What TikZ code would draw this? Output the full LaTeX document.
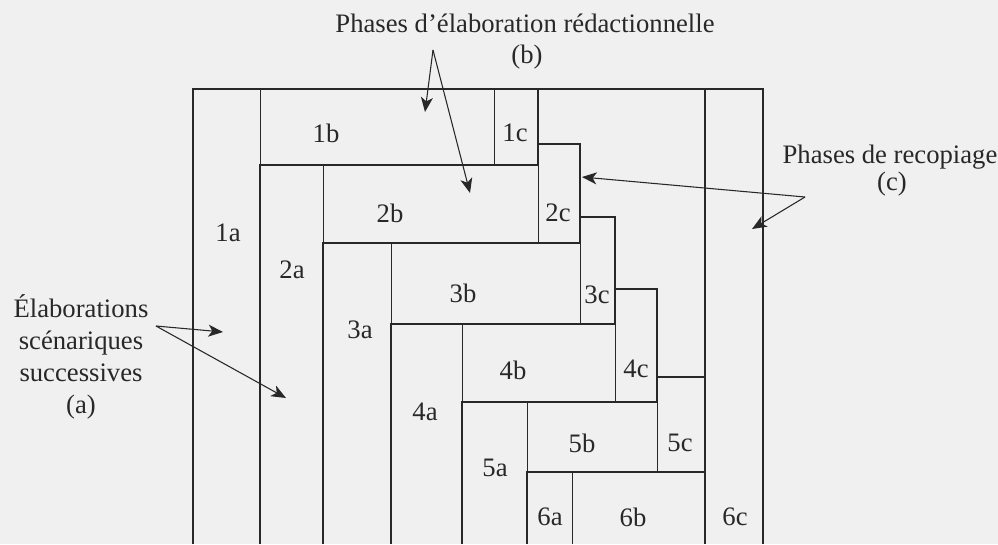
\documentclass[tikz,border=0pt]{standalone}
\usepackage{fontspec}
\setmainfont{Liberation Serif}
\usetikzlibrary{arrows.meta}

\definecolor{paper}{RGB}{240,240,240}
\definecolor{ink}{RGB}{40,40,40}

\tikzset{every picture/.style={line width=0.75pt}}
\tikzset{
  border/.style={draw=ink, line width=1.5pt},
  divider/.style={draw=ink, line width=0.6pt},
  lbl/.style={inner sep=0.75pt, text=ink, font=\fontsize{20}{22}\selectfont},
  note/.style={inner sep=0.75pt, text=ink, align=center, font=\fontsize{20}{24}\selectfont},
  pointer/.style={draw=ink, line width=0.8pt, -{Stealth[length=11pt,width=9pt,inset=3pt]}}
}

\begin{document}
\begin{tikzpicture}[x=0.75pt,y=0.75pt,yscale=-1,xscale=1]
\useasboundingbox (0,0) rectangle (998,544);
\fill [paper] (0,0) rectangle (998,544);

%Outer frame
\draw [border] (193,544) -- (193,89) -- (763,89) -- (763,544) ;
%Left edge of column 6c
\draw [draw=ink, line width=1pt] (705,89) -- (705,544) ;

%Level borders
\draw [border] (260,544) -- (260,165) -- (538,165) -- (538,89) ;
\draw [border] (323,544) -- (323,243) -- (580,243) -- (580,144) -- (538,144) ;
\draw [border] (391,544) -- (391,324) -- (615,324) -- (615,217) -- (580,217) ;
\draw [border] (462,544) -- (462,402) -- (657,402) -- (657,289) -- (615,289) ;
\draw [border] (527,544) -- (527,472) -- (705,472) -- (705,377) -- (657,377) ;

%Dividers a/b and b/c
\draw [divider] (260,89) -- (260,165) ;
\draw [divider] (494,89) -- (494,165) ;
\draw [divider] (323,165) -- (323,243) ;
\draw [divider] (538,165) -- (538,243) ;
\draw [divider] (391,243) -- (391,324) ;
\draw [divider] (580,243) -- (580,324) ;
\draw [divider] (462,324) -- (462,402) ;
\draw [divider] (615,324) -- (615,402) ;
\draw [divider] (527,402) -- (527,472) ;
\draw [divider] (657,402) -- (657,472) ;
\draw [divider] (572,472) -- (572,544) ;

% Box labels
\node [lbl] (l1a) at (228,233) {1a};
\node [lbl] (l1b) at (326,133) {1b};
\node [lbl] (l1c) at (515,133) {1c};
\node [lbl] (l2a) at (292,270) {2a};
\node [lbl] (l2b) at (390,213) {2b};
\node [lbl] (l2c) at (558,213) {2c};
\node [lbl] (l3a) at (360,330) {3a};
\node [lbl] (l3b) at (463,293) {3b};
\node [lbl] (l3c) at (597,295) {3c};
\node [lbl] (l4a) at (425,412) {4a};
\node [lbl] (l4b) at (513,370) {4b};
\node [lbl] (l4c) at (636,369) {4c};
\node [lbl] (l5a) at (495,468) {5a};
\node [lbl] (l5b) at (582,443) {5b};
\node [lbl] (l5c) at (680,443) {5c};
\node [lbl] (l6a) at (550,517) {6a};
\node [lbl] (l6b) at (633,517) {6b};
\node [lbl] (l6c) at (735,517) {6c};

% Text Node
\node [note, anchor=base] (phaseb) at (525,32) {Phases d'élaboration rédactionnelle};
\node [note, anchor=base] (tagb) at (527,63) {(b)};
\node [note, anchor=base] (phasec) at (890,163) {Phases de recopiage};
\node [note, anchor=base] (tagc) at (892,190) {(c)};
\node [note, anchor=base] (phasea) at (81,413) {Élaborations\\scénariques\\successives\\(a)};

% Arrows
\coordinate (apexb) at (433,50);
\coordinate (tipb1) at (425,112);
\coordinate (tipb2) at (470,193);
\coordinate (apexc) at (805,197);
\coordinate (tipc1) at (582,177);
\coordinate (tipc2) at (752,229);
\coordinate (apexa) at (156,326);
\coordinate (tipa1) at (223,332);
\coordinate (tipa2) at (286,398);
\draw [pointer] (apexb) -- (tipb1) ;
\draw [pointer] (apexb) -- (tipb2) ;
\draw [pointer] (apexc) -- (tipc1) ;
\draw [pointer] (apexc) -- (tipc2) ;
\draw [pointer] (apexa) -- (tipa1) ;
\draw [pointer] (apexa) -- (tipa2) ;

\end{tikzpicture}
\end{document}
